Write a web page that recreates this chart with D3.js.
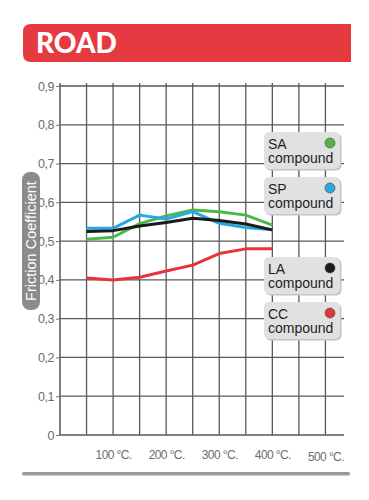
<!DOCTYPE html>
<html><head><meta charset="utf-8">
<script src="https://cdn.jsdelivr.net/npm/d3@7"></script>
<style>html,body{margin:0;padding:0;background:#fff;}svg{display:block;}</style>
</head><body>
<script>
const temps = [50, 100, 150, 200, 250, 300, 350, 400];
const saValues = [0.505, 0.510, 0.545, 0.565, 0.580, 0.576, 0.567, 0.541];
const spValues = [0.533, 0.533, 0.567, 0.557, 0.576, 0.546, 0.535, 0.529];
const laValues = [0.525, 0.527, 0.539, 0.548, 0.559, 0.553, 0.544, 0.529];
const ccValues = [0.405, 0.400, 0.407, 0.423, 0.438, 0.468, 0.480, 0.480];
const yTicks = [0, 0.1, 0.2, 0.3, 0.4, 0.5, 0.6, 0.7, 0.8, 0.9];
const xLabelTicks = [100, 200, 300, 400, 500];
const gridTemps = [50, 100, 150, 200, 250, 300, 350, 400, 450, 500];
const seriesNames = ["SA", "SP", "LA", "CC"];
const seriesColors = ["#4db748", "#27a8e0", "#1a1a1a", "#e5343a"];
const title = "ROAD";
const yTitle = "Friction Coefficient";

const W = 369, H = 500;
const svg = d3.select("body").append("svg").attr("width", W).attr("height", H);

// header
const hx0 = 23, hx1 = 351, hy0 = 24, hy1 = 62, r = 8;
svg.append("path")
  .attr("d", `M${hx0 + r},${hy0} H${hx1} V${hy1} H${hx0 + r} Q${hx0},${hy1} ${hx0},${hy1 - r} V${hy0 + r} Q${hx0},${hy0} ${hx0 + r},${hy0} Z`)
  .attr("fill", "#e63a41");
svg.append("text").attr("x", 36).attr("y", 52.5).text(title)
  .attr("fill", "#fff").attr("font-family", "Lato").attr("font-weight", 900)
  .attr("font-size", 28);

const x = d3.scaleLinear().domain([0, 535]).range([60, 344]);
const y = d3.scaleLinear().domain([0, 0.9]).range([435, 86]);

const grid = svg.append("g");
grid.selectAll("line.h").data(yTicks).join("line")
  .attr("x1", x(0)).attr("x2", x(535)).attr("y1", d => y(d)).attr("y2", d => y(d))
  .attr("stroke", "#595959").attr("stroke-width", 1.3);
grid.selectAll("line.v").data(gridTemps).join("line")
  .attr("x1", d => x(d)).attr("x2", d => x(d)).attr("y1", y(0.9) - 3).attr("y2", y(0))
  .attr("stroke", "#595959").attr("stroke-width", 1.3);

// y axis
const yAxis = d3.axisLeft(y).tickValues(yTicks).tickSize(4).tickPadding(2)
  .tickFormat(d => d === 0 ? "0" : d3.format(".1f")(d).replace(".", ","));
const ya = svg.append("g").attr("transform", `translate(${x(0)},0)`).call(yAxis);
ya.select(".domain").attr("d", `M0,${y(0.9) - 3}V${y(0)}`).attr("stroke", "#555").attr("stroke-width", 1.5);
ya.selectAll(".tick line").attr("stroke", "#777");
ya.selectAll(".tick text").attr("fill", "#6d6d6d").attr("font-family", "Liberation Sans")
  .attr("font-size", 12.5).attr("letter-spacing", "-0.5px");

// x axis labels
const xAxis = d3.axisBottom(x).tickValues(xLabelTicks).tickSize(0).tickPadding(15)
  .tickFormat(d => d + " °C.");
const xa = svg.append("g").attr("transform", `translate(0,${y(0)})`).call(xAxis);
xa.select(".domain").remove();
xa.selectAll(".tick text").attr("fill", "#6d6d6d").attr("font-family", "Liberation Sans")
  .attr("font-size", 12).attr("letter-spacing", "-0.6px")
  .attr("dy", d => d === 500 ? "0.88em" : "0.71em");

// y title pill
const pill = svg.append("g").attr("transform", "translate(31,241) rotate(-90)");
pill.append("rect").attr("x", -69).attr("y", -9).attr("width", 138).attr("height", 18)
  .attr("rx", 8).attr("fill", "#8b8b8b");
pill.append("text").text(yTitle).attr("text-anchor", "middle").attr("dy", "0.36em")
  .attr("fill", "#fff").attr("font-family", "Liberation Sans").attr("font-size", 14.5);

// lines
const allSeries = [saValues, spValues, laValues, ccValues];
const line = d3.line().x((d, i) => x(temps[i])).y(d => y(d));
const order = [3, 0, 1, 2];
svg.append("g").selectAll("path").data(order).join("path")
  .attr("d", k => line(allSeries[k]))
  .attr("fill", "none").attr("stroke", k => seriesColors[k])
  .attr("stroke-width", 3).attr("stroke-linejoin", "round");

// legend boxes
const boxTops = [132, 177, 257, 302];
const leg = svg.append("g");
const lg = leg.selectAll("g").data(seriesNames).join("g")
  .attr("transform", (d, i) => `translate(264,${boxTops[i]})`);
lg.append("rect").attr("x", 1.5).attr("y", 1.5).attr("width", 76).attr("height", 37).attr("rx", 5)
  .attr("fill", "#c4c4c4");
lg.append("rect").attr("width", 76).attr("height", 37).attr("rx", 5)
  .attr("fill", "#e1e1e1");
lg.append("text").attr("x", 4).attr("y", 16.5).text(d => d)
  .attr("fill", "#1e1e1e").attr("font-family", "Liberation Sans").attr("font-size", 14);
lg.append("text").attr("x", 4).attr("y", 31).text("compound")
  .attr("fill", "#1e1e1e").attr("font-family", "Liberation Sans").attr("font-size", 14);
lg.append("circle").attr("cx", 66).attr("cy", 11).attr("r", 5)
  .attr("fill", (d, i) => seriesColors[i]).attr("stroke", "#444").attr("stroke-width", 0.6);

// bottom bar
svg.append("rect").attr("x", 22).attr("y", 472).attr("width", 328).attr("height", 3.5)
  .attr("rx", 1.5).attr("fill", "#9a9a9a");
</script>
</body></html>
